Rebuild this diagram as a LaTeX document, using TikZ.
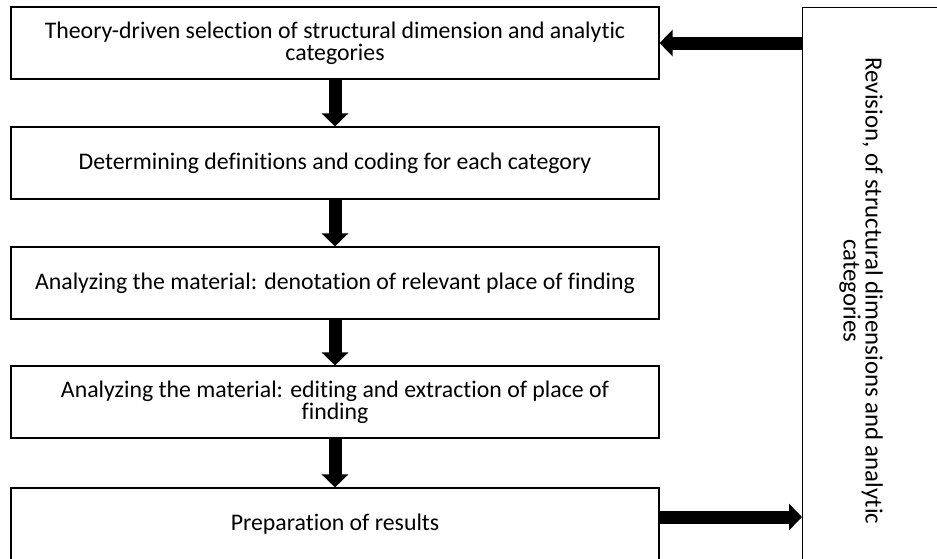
\documentclass[tikz,border=0pt]{standalone}
\usepackage{fontspec}
\setmainfont{Carlito}[Ligatures=NoCommon]
\usepackage{tikz}
\usetikzlibrary{arrows.meta}

\tikzset{
    stagebox/.style={draw,line width=0.6pt,minimum width=324pt,minimum height=36pt,align=center,inner sep=2pt,font=\fontsize{11.9}{11}\selectfont},
    blockarrow/.style={line width=6.5pt,-{Triangle[width=13pt,length=6.5pt]}}
}

\begin{document}
\begin{tikzpicture}[x=0.5pt,y=-0.5pt]
        \clip (0,0) rectangle (937,558);
        \fill[white] (0,0) rectangle (937,558);
        \node[stagebox] (theory) at (335,43) {Theory-driven selection of structural dimension and analytic\\categories};
        \node[stagebox] (defin) at (335,163) {Determining definitions and coding for each category};
        \node[stagebox] (denot) at (335,283) {Analyzing the material: denotation of relevant place of finding};
        \node[stagebox] (extract) at (335,402) {Analyzing the material: editing and extraction of place of\\finding};
        \node[stagebox] (results) at (335,524) {Preparation of results};
        \node[draw,line width=0.6pt,anchor=north west,minimum width=200pt,minimum height=320pt] (revision) at (802,7) {};
        \node[rotate=-90,align=center,font=\fontsize{12.4}{11}\selectfont] (revtext) at (861,291) {Revision, of structural dimensions and analytic\\categories};
        \draw[blockarrow] (theory) -- (defin);
        \draw[blockarrow] (defin) -- (denot);
        \draw[blockarrow] (denot) -- (extract);
        \draw[blockarrow] (extract) -- (results);
        \draw[blockarrow] (revision.west |- theory.east) -- (theory.east);
        \draw[blockarrow] ([yshift=3.5pt]results.east) -- ([yshift=3.5pt]results.east -| revision.west);
    \end{tikzpicture}
\end{document}
